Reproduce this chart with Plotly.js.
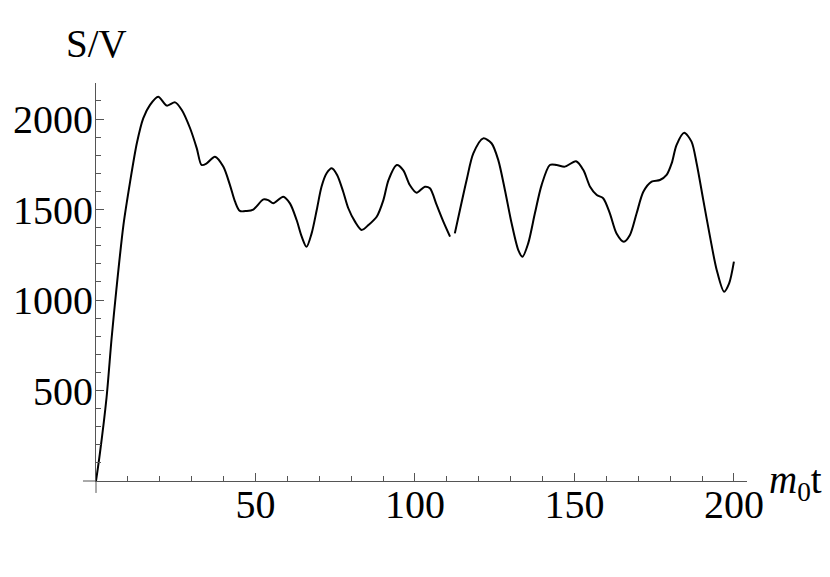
<!DOCTYPE html>
<html>
<head>
<meta charset="utf-8">
<script src="https://cdn.plot.ly/plotly-3.0.1.min.js"></script>
<style>html,body{margin:0;padding:0;background:#fff;}#chart{width:830px;height:577px;}</style>
</head>
<body>
<div id="chart"></div>
<script>
// time m0*t
var timeValues = [0, 1.2, 3.3, 4.9, 6.4, 8.6, 10.7, 12.8, 14.8, 16.9, 19.5, 22.2, 24.8, 26.9, 29.5, 31.6, 33.1, 34.7, 37.3, 39.9, 42, 43.6, 45.1, 47.2, 49.3, 52.5, 54, 55.6, 58.7, 60.8, 62.9, 64.5, 66, 67.6, 69.2, 70.7, 72.3, 73.9, 75.6, 77.5, 79.1, 81.2, 83.3, 85.4, 88, 90.1, 91.7, 94.3, 96.3, 98.4, 100.5, 103.1, 104.7, 106.8, 108.9, 111, 111.7, 112.5, 114.1, 116.2, 118.3, 121.4, 124, 126.1, 128.2, 130.3, 132.4, 133.7, 135.5, 137.6, 139.7, 142.3, 144.4, 147, 150.5, 152.8, 154.9, 157, 159, 161.1, 163.2, 165.5, 167.4, 169.5, 171.6, 174.2, 176.8, 178.9, 180.5, 182, 184.4, 186.7, 188.3, 190.4, 192.5, 194.6, 196.9, 198.5, 200];
// S/V values
var svValues = [0, 150, 460, 790, 1060, 1414, 1654, 1866, 2004, 2077, 2123, 2074, 2092, 2050, 1949, 1838, 1746, 1755, 1792, 1737, 1635, 1543, 1492, 1492, 1500, 1556, 1552, 1534, 1571, 1534, 1442, 1350, 1294, 1368, 1497, 1626, 1700, 1728, 1691, 1598, 1507, 1433, 1387, 1414, 1460, 1552, 1663, 1746, 1718, 1635, 1593, 1626, 1617, 1525, 1433, 1350, null, 1368, 1497, 1663, 1810, 1893, 1866, 1774, 1608, 1424, 1276, 1239, 1313, 1479, 1635, 1746, 1746, 1737, 1767, 1718, 1626, 1580, 1562, 1479, 1368, 1322, 1359, 1479, 1598, 1654, 1663, 1691, 1756, 1856, 1924, 1875, 1756, 1552, 1350, 1166, 1046, 1092, 1212];
var xTickVals = [50, 100, 150, 200];
var xTickText = ["50", "100", "150", "200"];
var yTickVals = [500, 1000, 1500, 2000];
var yTickText = ["500", "1000", "1500", "2000"];

var serif = "Liberation Serif";
var axisColor = "#555555";

var trace = {
  x: timeValues, y: svValues, type: "scatter", mode: "lines",
  line: {color: "#000000", width: 2, shape: "spline", smoothing: 0.8},
  connectgaps: false, hoverinfo: "skip"
};

var layout = {
  width: 830, height: 577,
  margin: {l: 96, r: 83, t: 83, b: 96, pad: 0},
  paper_bgcolor: "#ffffff", plot_bgcolor: "#ffffff",
  showlegend: false,
  font: {family: serif, size: 40, color: "#000000"},
  xaxis: {
    range: [0, 204.1], showgrid: false, zeroline: false,
    showline: true, linecolor: axisColor, linewidth: 1,
    ticks: "inside", ticklen: 8, tickcolor: axisColor, tickwidth: 1,
    tickmode: "array", tickvals: xTickVals, ticktext: xTickText,
    ticklabelstandoff: -12,
    tickfont: {family: serif, size: 40, color: "#000000"},
    minor: {ticks: "inside", ticklen: 5, tickcolor: axisColor, tickwidth: 1, dtick: 10, tick0: 0}
  },
  yaxis: {
    range: [0, 2199], showgrid: false, zeroline: false,
    showline: true, linecolor: axisColor, linewidth: 1,
    ticks: "inside", ticklen: 8, tickcolor: axisColor, tickwidth: 1,
    tickmode: "array", tickvals: yTickVals, ticktext: yTickText,
    ticklabelstandoff: -6,
    tickfont: {family: serif, size: 40, color: "#000000"},
    minor: {ticks: "inside", ticklen: 4.5, tickcolor: axisColor, tickwidth: 1, dtick: 100, tick0: 0}
  },
  shapes: [
    {type: "line", xref: "paper", yref: "paper", x0: -0.02, x1: 0, y0: 0, y1: 0, line: {color: axisColor, width: 1}},
    {type: "line", xref: "paper", yref: "paper", x0: 0, x1: 0, y0: -0.03, y1: 0, line: {color: axisColor, width: 1}}
  ],
  annotations: [
    {text: "S/V", xref: "paper", yref: "paper", x: 0, y: 1.098, xanchor: "center", yanchor: "middle", showarrow: false,
     font: {family: serif, size: 39, color: "#000000"}},
    {text: "<i>m</i><sub>0</sub>t", xref: "paper", yref: "paper", x: 1.031, y: -0.005, xanchor: "left", yanchor: "middle", showarrow: false,
     font: {family: serif, size: 39, color: "#000000"}}
  ]
};

Plotly.newPlot("chart", [trace], layout, {displayModeBar: false, staticPlot: true});
</script>
</body>
</html>
